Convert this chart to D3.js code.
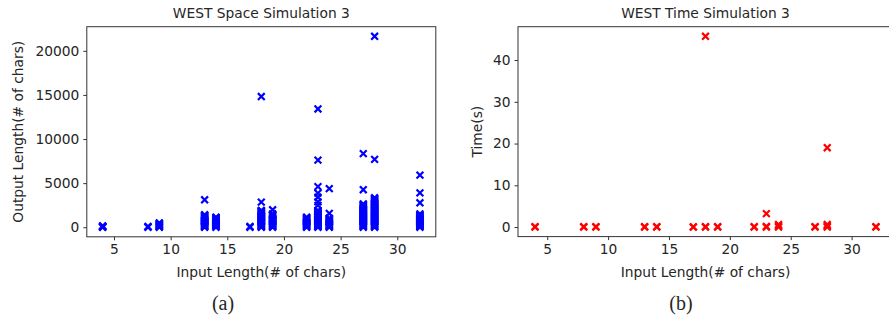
<!DOCTYPE html>
<html>
<head>
<meta charset="utf-8">
<script src="https://cdn.jsdelivr.net/npm/d3@7"></script>
<style>
  body { margin: 0; background: #fff; }
  text { font-family: "DejaVu Sans", sans-serif; fill: #262626; }
</style>
</head>
<body>
<div id="chart"></div>
<script>
// input lengths (# of chars)
const inputLengths = [4, 8, 9, 13, 14, 17, 18, 19, 22, 23, 24, 27, 28, 32];

// output lengths per input length (space simulation)
const space4 = [0, 25, 60, 110, 160];
const space8 = [0, 35, 80];
const space9 = [0, 45, 100, 160, 230, 300, 360, 430, 500];
const space13 = [0, 55, 120, 190, 250, 320, 400, 460, 530, 610, 680, 750, 830, 900, 980, 1050, 1130, 1200, 1280, 1350, 1410, 3110];
const space14 = [0, 60, 130, 200, 270, 340, 420, 490, 560, 640, 710, 790, 860, 940, 1010, 1080, 1140];
const space17 = [0, 40, 80];
const space18 = [0, 60, 120, 190, 260, 330, 400, 470, 540, 610, 690, 760, 830, 900, 980, 1050, 1120, 1200, 1270, 1340, 1420, 1490, 1560, 1640, 1710, 1790, 1860, 1900, 2840, 14820];
const space19 = [0, 70, 140, 220, 290, 370, 440, 520, 600, 670, 750, 820, 900, 970, 1050, 1120, 1280, 1360, 1440, 1520, 1980];
const space22 = [0, 65, 130, 200, 270, 340, 410, 480, 560, 630, 700, 780, 850, 920, 1000, 1070, 1140];
const space23 = [0, 60, 130, 200, 270, 340, 420, 490, 560, 640, 710, 790, 860, 940, 1010, 1090, 1160, 1240, 1320, 1390, 1470, 1550, 1630, 1710, 1800, 1900, 2480, 2880, 3400, 3860, 4600, 7600, 13410];
const space24 = [0, 70, 140, 220, 300, 380, 460, 540, 620, 700, 780, 860, 940, 1020, 1560, 4380];
const space27 = [0, 70, 140, 210, 290, 360, 430, 510, 580, 650, 730, 800, 880, 950, 1030, 1100, 1180, 1250, 1330, 1410, 1480, 1560, 1640, 1720, 1800, 1880, 1960, 2040, 2120, 2200, 2290, 2380, 2470, 2560, 2650, 4250, 8340];
const space28 = [0, 70, 150, 220, 300, 370, 450, 530, 600, 680, 760, 840, 920, 1000, 1080, 1160, 1240, 1320, 1400, 1480, 1560, 1650, 1730, 1810, 1900, 1980, 2070, 2160, 2240, 2330, 2420, 2510, 2600, 2690, 2780, 2870, 2960, 3050, 3150, 3240, 3340, 7690, 21650];
const space32 = [0, 65, 130, 200, 270, 340, 410, 480, 560, 630, 700, 780, 850, 930, 1000, 1080, 1160, 1240, 1320, 1400, 1520, 2770, 3900, 5900];
const spaceValues = [space4, space8, space9, space13, space14, space17, space18, space19,
                     space22, space23, space24, space27, space28, space32];

// time in seconds per input length (time simulation)
const time4 = [0, 0.1];
const time8 = [0, 0.1];
const time9 = [0, 0.1];
const time13 = [0, 0.1];
const time14 = [0, 0.1];
const time17 = [0, 0.05];
const time18 = [0, 0.1, 45.7];
const time19 = [0, 0.1];
const time22 = [0, 0.1];
const time23 = [0, 0.15, 3.2];
const time24 = [0, 0.3, 0.6];
const time27 = [0, 0.1];
const time28 = [0, 0.3, 0.6, 19.0];
const time32 = [0, 0.1];
const timeValues = [time4, time8, time9, time13, time14, time17, time18, time19,
                    time22, time23, time24, time27, time28, time32];

const xTicks = [5, 10, 15, 20, 25, 30];
const spaceTicks = [0, 5000, 10000, 15000, 20000];
const timeTicks = [0, 10, 20, 30, 40];

const W = 889, H = 322;
const fontSize = 13.8;

const svg = d3.select("#chart").append("svg")
  .attr("width", W)
  .attr("height", H)
  .style("display", "block");
svg.append("rect").attr("width", W).attr("height", H).attr("fill", "#fff");

function toPoints(values) {
  const pts = [];
  inputLengths.forEach((x, i) => values[i].forEach(y => pts.push({x: x, y: y})));
  return pts;
}

function drawPanel(opts) {
  const x = d3.scaleLinear().domain([2.6, 33.4]).range([opts.left, opts.right]);
  const y = d3.scaleLinear().domain(opts.yDomain).range([opts.bottom, opts.top]);
  const g = svg.append("g");

  // frame
  g.append("rect")
    .attr("x", opts.left).attr("y", opts.top)
    .attr("width", opts.right - opts.left).attr("height", opts.bottom - opts.top)
    .attr("fill", "none").attr("stroke", "#333").attr("stroke-width", 1);

  const xAxis = g.append("g")
    .attr("transform", "translate(0," + opts.bottom + ")")
    .call(d3.axisBottom(x).tickValues(xTicks).tickFormat(d3.format("d"))
      .tickSize(3.5).tickPadding(4).tickSizeOuter(0));
  const yAxis = g.append("g")
    .attr("transform", "translate(" + opts.left + ",0)")
    .call(d3.axisLeft(y).tickValues(opts.yTicks).tickFormat(d3.format("d"))
      .tickSize(3.5).tickPadding(4).tickSizeOuter(0));
  [xAxis, yAxis].forEach(a => {
    a.select(".domain").remove();
    a.selectAll(".tick line").attr("stroke", "#333");
    a.selectAll(".tick text")
      .style("font-family", "'DejaVu Sans', sans-serif")
      .style("font-size", fontSize + "px")
      .attr("fill", "#262626");
  });

  // points
  g.selectAll(".pt")
    .data(toPoints(opts.values))
    .enter()
    .append("path")
    .attr("transform", d => "translate(" + x(d.x) + "," + y(d.y) + ")")
    .attr("d", "M-3.4,-3.4L3.4,3.4M-3.4,3.4L3.4,-3.4")
    .attr("fill", "none")
    .attr("stroke", opts.color)
    .attr("stroke-width", 2.2);

  const cx = (opts.left + opts.right) / 2;
  g.append("text")
    .attr("x", cx).attr("y", 18)
    .attr("text-anchor", "middle")
    .style("font-size", fontSize + "px")
    .text(opts.title);
  g.append("text")
    .attr("x", cx).attr("y", 276.5)
    .attr("text-anchor", "middle")
    .style("font-size", fontSize + "px")
    .text("Input Length(# of chars)");
  g.append("text")
    .attr("transform", "translate(" + opts.yLabelX + "," + ((opts.top + opts.bottom) / 2) + ") rotate(-90)")
    .attr("text-anchor", "middle")
    .attr("dy", "0.35em")
    .style("font-size", fontSize + "px")
    .text(opts.yLabel);
  g.append("text")
    .attr("x", opts.captionX).attr("y", 310)
    .attr("text-anchor", "middle")
    .style("font-family", "'Liberation Serif', 'Times New Roman', serif")
    .style("font-size", "20px")
    .attr("fill", "#000")
    .text(opts.caption);
}

drawPanel({
  left: 86.8, right: 435.8, top: 26.7, bottom: 236.8,
  yDomain: [-1085, 22735], yTicks: spaceTicks,
  values: spaceValues, color: "#0000ff",
  title: "WEST Space Simulation 3",
  yLabel: "Output Length(# of chars)", yLabelX: 18,
  caption: "(a)", captionX: 223
});

drawPanel({
  left: 518, right: 893, top: 26.7, bottom: 236.6,
  yDomain: [-2.29, 47.99], yTicks: timeTicks,
  values: timeValues, color: "#ff0000",
  title: "WEST Time Simulation 3",
  yLabel: "Time(s)", yLabelX: 477,
  caption: "(b)", captionX: 681
});
</script>
</body>
</html>
